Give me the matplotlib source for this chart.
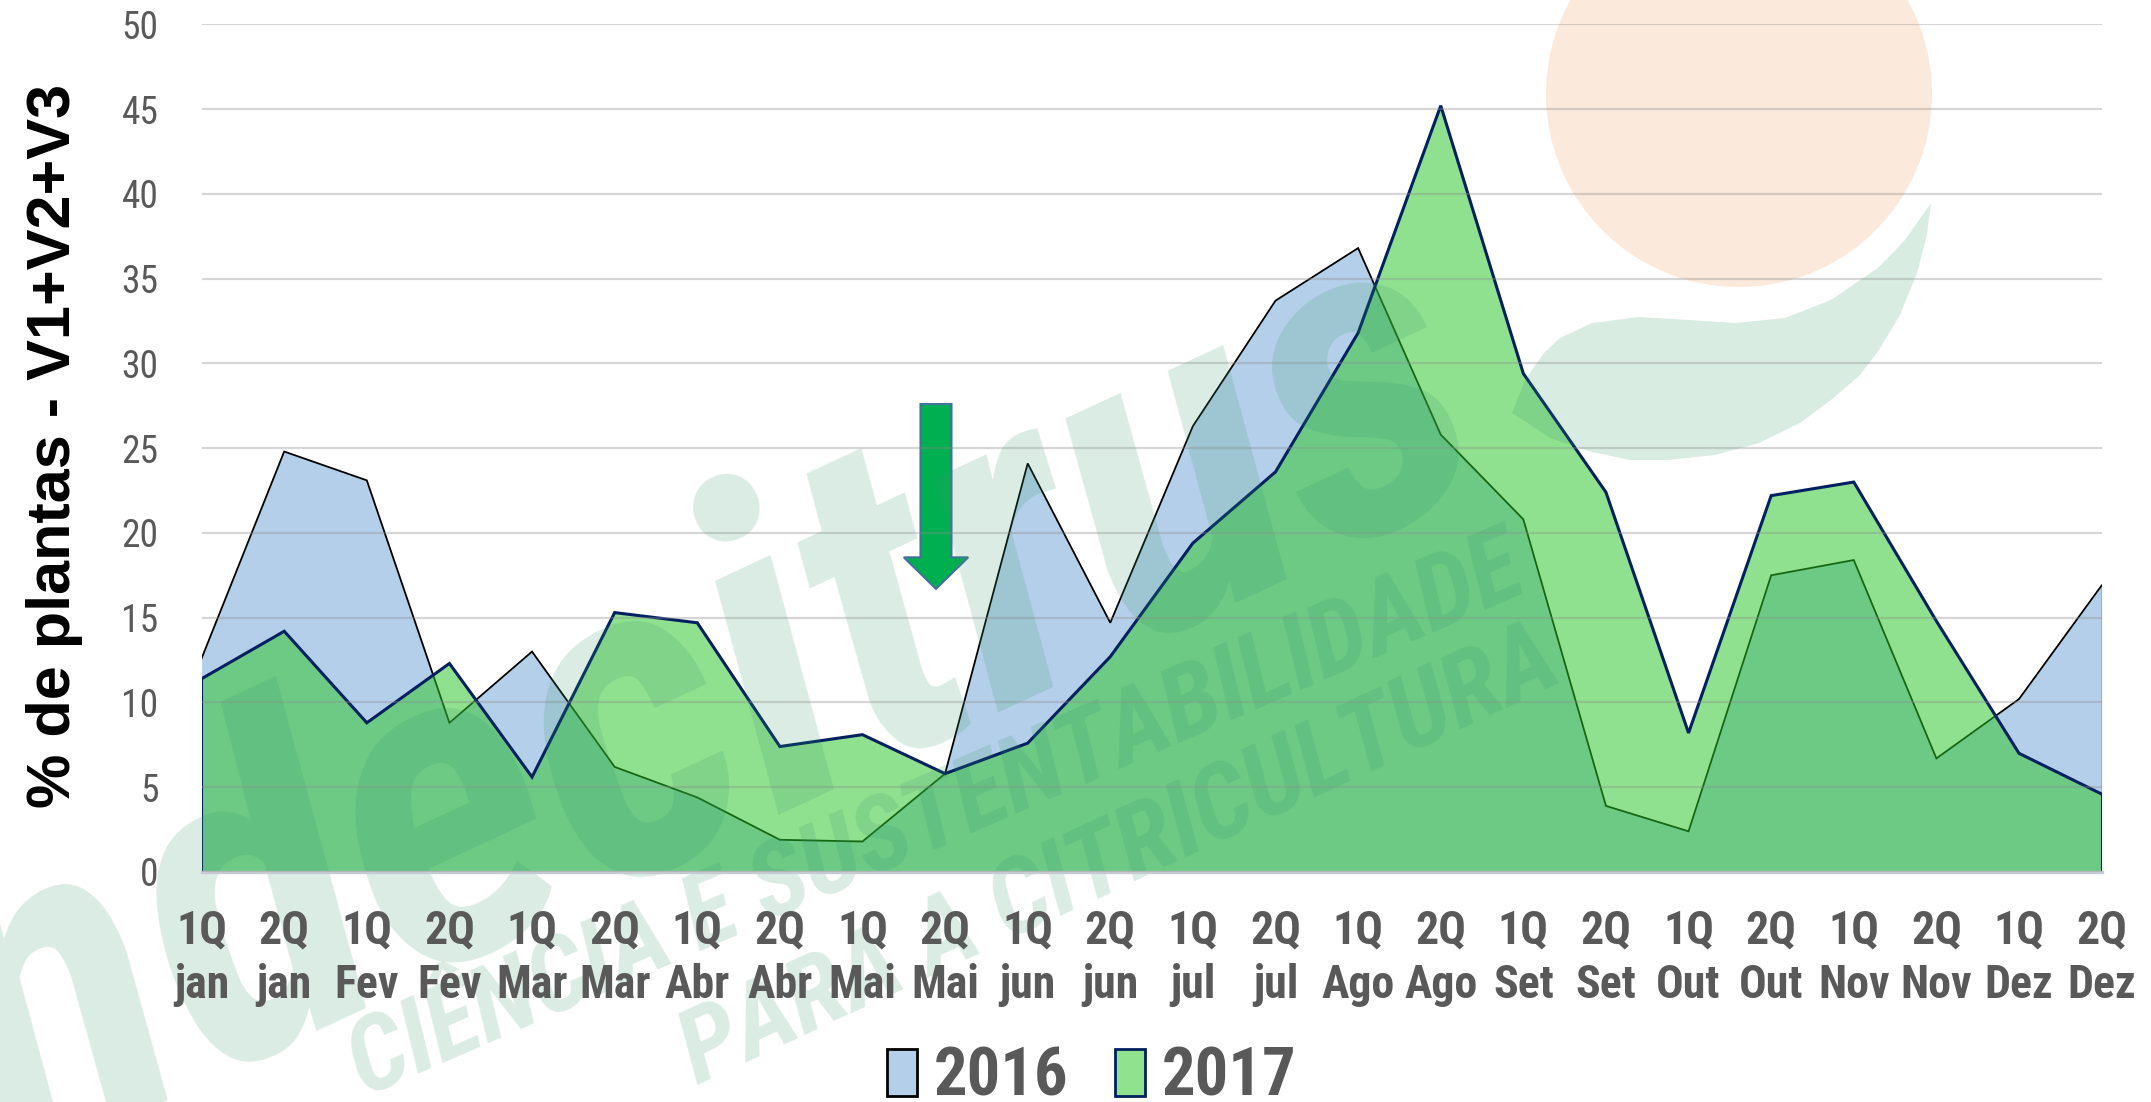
import matplotlib
matplotlib.use("Agg")
import matplotlib.pyplot as plt
from matplotlib import font_manager as fm
from matplotlib.patches import FancyArrow, Circle, Polygon, Patch
import numpy as np

# ---------------- data ----------------
quinzenas = ['1Q', '2Q'] * 12
meses = ['jan', 'jan', 'Fev', 'Fev', 'Mar', 'Mar', 'Abr', 'Abr', 'Mai', 'Mai',
         'jun', 'jun', 'jul', 'jul', 'Ago', 'Ago', 'Set', 'Set', 'Out', 'Out',
         'Nov', 'Nov', 'Dez', 'Dez']
serie_2016 = [12.6, 24.8, 23.1, 8.8, 13.0, 6.2, 4.4, 1.9, 1.8, 5.8, 24.1, 14.7,
              26.3, 33.7, 36.8, 25.8, 20.8, 3.9, 2.4, 17.5, 18.4, 6.7, 10.2, 16.9]
serie_2017 = [11.4, 14.2, 8.8, 12.3, 5.6, 15.3, 14.7, 7.4, 8.1, 5.8, 7.6, 12.7,
              19.4, 23.6, 31.8, 45.2, 29.4, 22.4, 8.2, 22.2, 23.0, 14.8, 7.0, 4.6]
legend_labels = ['2016', '2017']
y_ticks = [0, 5, 10, 15, 20, 25, 30, 35, 40, 45, 50]
y_label = '% de plantas - V1+V2+V3'
# arrow annotation (data units)
arrow_x, arrow_top, arrow_tip = 8.89, 27.6, 16.7

# ---------------- fonts ----------------
installed = sorted({f.name for f in fm.fontManager.ttflist})
pref = ['Liberation Sans Narrow', 'Arial Narrow', 'Roboto Condensed', 'Open Sans Condensed',
        'Noto Sans Condensed']
narrow_name = None
for p in pref:
    if p in installed:
        narrow_name = p
        break
if narrow_name is None:
    for n in installed:
        if ('Narrow' in n or 'Condensed' in n) and 'DejaVu' not in n:
            narrow_name = n
            break
if narrow_name is not None:
    NARROW = [narrow_name, 'DejaVu Sans']
    k = 1.0
else:
    NARROW = ['Liberation Sans', 'DejaVu Sans']
    k = 0.84
ARIAL = ['Liberation Sans', 'DejaVu Sans']
GREY = '#595959'

W, H = 2151, 1102
fig = plt.figure(figsize=(W / 100, H / 100), dpi=100)
ax = fig.add_axes([201.6 / W, 1 - 872 / H, (2101.6 - 201.6) / W, (872 - 24.3) / H])

x = np.arange(len(serie_2016))
y16 = np.array(serie_2016)
y17 = np.array(serie_2017)

blue = '#B4CFEA'
green = (42 / 255, 199 / 255, 40 / 255)

ax.fill_between(x, 0, y16, color=blue, lw=0, zorder=1.0)
ax.plot(x, y16, color='black', lw=1.3, zorder=1.2, solid_joinstyle='miter')
ax.plot([x[-1], x[-1]], [0, y16[-1]], color='#333333', lw=1.0, zorder=1.2)
ax.fill_between(x, 0, y17, color=green, alpha=0.52, lw=0, zorder=1.4)
ax.plot(x, y17, color='#002060', lw=2.2, zorder=1.6, solid_joinstyle='miter')
ax.plot([x[0], x[0]], [0, y17[0]], color='#002060', lw=1.5, zorder=1.6)
ax.plot([x[-1], x[-1]], [0, y17[-1]], color='#002060', lw=1.5, zorder=1.6)

arr = FancyArrow(arrow_x, arrow_top, 0, arrow_tip - arrow_top, width=0.375,
                 head_width=0.78, head_length=1.86, length_includes_head=True,
                 facecolor='#00B050', edgecolor='#41719C', lw=1.5, zorder=2.0)
ax.add_patch(arr)

ax.set_xlim(x[0], x[-1])
ax.set_ylim(0, 50)
ax.set_yticks(y_ticks)
ax.set_xticks(x)
ax.set_xticklabels([f'{q}\n{m}' for q, m in zip(quinzenas, meses)])
ax.set_axisbelow(False)
ax.grid(axis='y', color=(0.55, 0.55, 0.55), alpha=0.35, lw=1.6)
ax.grid(axis='x', visible=False)
for s in ['top', 'right', 'left']:
    ax.spines[s].set_visible(False)
ax.spines['bottom'].set_color('#C6CAD2')
ax.spines['bottom'].set_linewidth(2.4)
ax.tick_params(axis='both', length=0)
ax.tick_params(axis='y', pad=31, labelcolor=GREY)
ax.tick_params(axis='x', pad=26 + (1 - k) * 20, labelcolor=GREY)
for t in ax.get_yticklabels():
    t.set_fontfamily(NARROW)
    t.set_fontsize(27 * (1 if k == 1 else 0.9))
for t in ax.get_xticklabels():
    t.set_fontfamily(NARROW)
    t.set_fontsize(33 * k)
    t.set_fontweight('bold')
    t.set_linespacing(1.32 if k == 1 else 1.45)

fig.text(55 / W, 1 - 446 / H, y_label, rotation=90, ha='center', va='center',
         fontsize=44, fontweight='bold', family=ARIAL, color='black')

handles = [Patch(facecolor=blue, edgecolor='black', lw=2),
           Patch(facecolor='#91E28F', edgecolor='#002060', lw=2)]
leg = ax.legend(handles, legend_labels, loc='center', bbox_to_anchor=(1092 / W, 1 - 1078 / H),
                bbox_transform=fig.transFigure, ncol=2, frameon=False,
                handlelength=0.45 / k, handleheight=0.72 / k, handletextpad=0.25 / k,
                columnspacing=0.7 / k,
                prop={'family': NARROW, 'weight': 'bold', 'size': 48 * k})
for t in leg.get_texts():
    t.set_color(GREY)

# ---------------- watermark (Fundecitrus logo) ----------------
wm = (58 / 255, 154 / 255, 106 / 255)
px = fig.dpi_scale_trans
def P(xp, yp):
    return (xp / 100, (H - yp) / 100)

ax.add_patch(Circle(P(1739, 94), 1.93, transform=px, facecolor=(235 / 255, 145 / 255, 75 / 255),
                    alpha=0.2, lw=0, clip_on=False, zorder=2.4))
swoosh = [(1931, 203), (1905, 240), (1879, 267), (1831, 300), (1785, 318), (1735, 323),
          (1690, 320), (1639, 317), (1592, 323), (1560, 338), (1544, 353), (1525, 380),
          (1512, 413), (1550, 438), (1592, 452), (1630, 460), (1668, 460), (1715, 455),
          (1759, 443), (1800, 423), (1831, 400), (1860, 375), (1879, 350), (1900, 315),
          (1917, 273), (1927, 235)]
ax.add_patch(Polygon([P(a, b) for a, b in swoosh], closed=True, transform=px, facecolor=wm,
                     alpha=0.19, lw=0, clip_on=False, zorder=2.4))

big = 325 if k == 1 else 250
small = 75 if k == 1 else 62
ax.text(*P(1505, 470), 'fundecitrus', transform=px, rotation=25, rotation_mode='anchor',
        ha='right', va='baseline', fontsize=big, fontweight='bold', fontstyle='italic',
        family=NARROW, color=wm, alpha=0.19, clip_on=False, zorder=2.45)
ax.text(*P(1530, 590), 'CIÊNCIA E SUSTENTABILIDADE', transform=px, rotation=23.5,
        rotation_mode='anchor', ha='right', va='baseline', fontsize=small, fontweight='bold',
        fontstyle='italic', family=NARROW, color=wm, alpha=0.19, clip_on=False, zorder=2.45)
ax.text(*P(1565, 680), 'PARA A CITRICULTURA', transform=px, rotation=25,
        rotation_mode='anchor', ha='right', va='baseline', fontsize=small, fontweight='bold',
        fontstyle='italic', family=NARROW, color=wm, alpha=0.19, clip_on=False, zorder=2.45)

fig.savefig('out.png', dpi=100)
